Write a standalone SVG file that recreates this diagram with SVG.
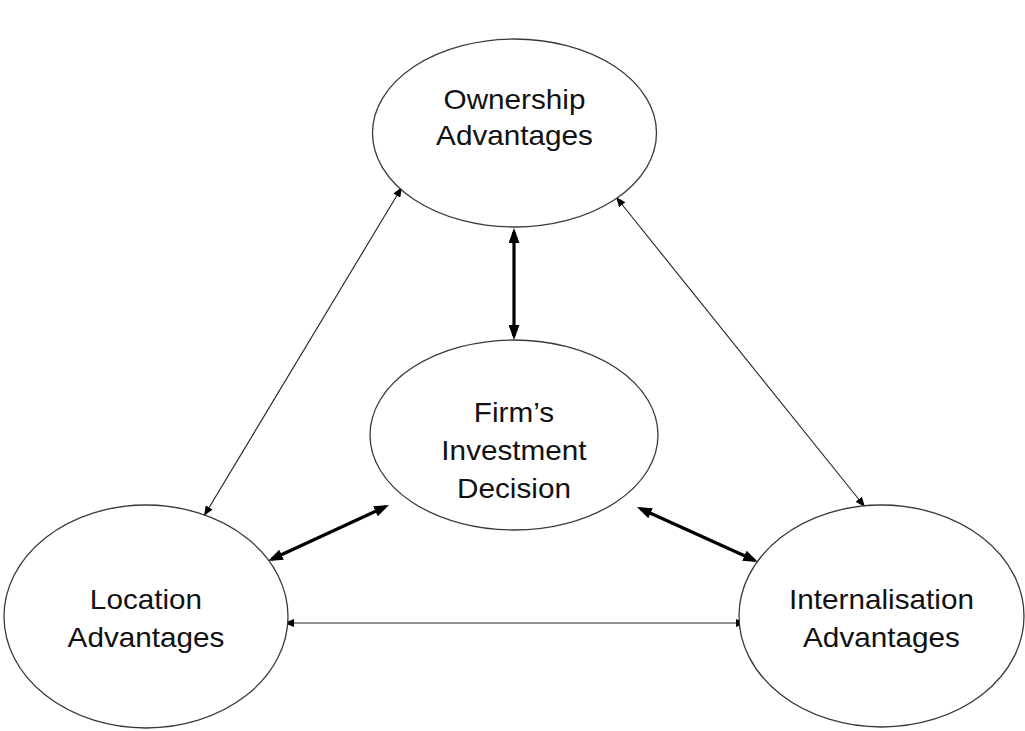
<svg xmlns="http://www.w3.org/2000/svg" width="1025" height="731" viewBox="0 0 1025 731">
  <style>
    .node ellipse { fill: #ffffff; stroke: #3a3a3a; stroke-width: 1.3; }
    .label { font-family: "Liberation Sans", Arial, sans-serif; font-size: 27px; fill: #111; text-anchor: middle; }
    .thin { stroke: #222; stroke-width: 1.1; fill: none; marker-start: url(#headThin); marker-end: url(#headThin); }
    .thick { stroke: #000; stroke-width: 3.2; fill: none; marker-start: url(#headThick); marker-end: url(#headThick); }
  </style>
  <defs>
    <marker id="headThin" markerUnits="userSpaceOnUse" viewBox="0 0 10 8" refX="10" refY="4" markerWidth="10" markerHeight="8" orient="auto-start-reverse">
      <path d="M0,0 L10,4 L0,8 Z" fill="#000"/>
    </marker>
    <marker id="headThick" markerUnits="userSpaceOnUse" viewBox="0 0 15 11" refX="11" refY="5.5" markerWidth="15" markerHeight="11" orient="auto-start-reverse">
      <path d="M0,0 L15,5.5 L0,11 Z" fill="#000"/>
    </marker>
  </defs>

  <rect width="1025" height="731" fill="#ffffff"/>

  <g id="connectors">
    <!-- two-way links between the outer advantages -->
    <line class="thin" x1="402" y1="187" x2="204" y2="516"/>
    <line class="thin" x1="616" y1="197" x2="865" y2="507"/>
    <line class="thin" x1="284" y1="623" x2="746" y2="623"/>
    <!-- two-way links to the investment decision -->
    <line class="thick" x1="514" y1="232" x2="514" y2="336"/>
    <line class="thick" x1="385.4" y1="506.7" x2="271.6" y2="559.3"/>
    <line class="thick" x1="640.6" y1="508.7" x2="754.4" y2="560.3"/>
  </g>

  <g id="ownership" class="node">
    <ellipse cx="514.5" cy="133" rx="142" ry="94"/>
    <g transform="matrix(1.1 0 0 1 -51.45 0)">
      <text class="label" x="514.5" y="109">Ownership</text>
      <text class="label" x="514.5" y="145">Advantages</text>
    </g>
  </g>

  <g id="decision" class="node">
    <ellipse cx="514" cy="435" rx="144" ry="95"/>
    <g transform="matrix(1.1 0 0 1 -51.4 0)">
      <text class="label" x="514" y="422">Firm’s</text>
      <text class="label" x="514" y="460">Investment</text>
      <text class="label" x="514" y="498">Decision</text>
    </g>
  </g>

  <g id="location" class="node">
    <ellipse cx="146" cy="616.5" rx="142" ry="111.5"/>
    <g transform="matrix(1.1 0 0 1 -14.6 0)">
      <text class="label" x="146" y="609">Location</text>
      <text class="label" x="146" y="647">Advantages</text>
    </g>
  </g>

  <g id="internalisation" class="node">
    <ellipse cx="881.5" cy="616" rx="142.5" ry="111"/>
    <g transform="matrix(1.1 0 0 1 -88.15 0)">
      <text class="label" x="881.5" y="609">Internalisation</text>
      <text class="label" x="881.5" y="647">Advantages</text>
    </g>
  </g>
</svg>
